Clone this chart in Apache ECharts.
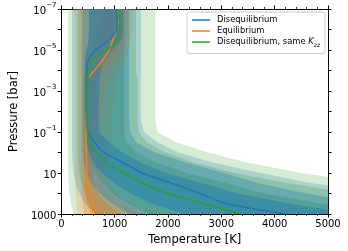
<!DOCTYPE html>
<html><head><meta charset="utf-8">
<script src="https://cdn.jsdelivr.net/npm/echarts@6/dist/echarts.min.js"></script>
<style>html,body{margin:0;padding:0;background:#fff}#c{width:348px;height:251px}</style>
</head><body><div id="c"></div>
<script>
// Pressure levels [bar]
const pressure = [1e-7,3.16e-7,1e-6,3.16e-6,5.62e-6,1e-5,1.78e-5,3.16e-5,5.62e-5,1e-4,3.16e-4,1e-3,1e-2,3.16e-2,0.1,0.316,1,3.16,10,31.6,100,316,1000];

// Median temperature profiles [K]
const tempDiseq    = [1020,1050,1040,900,770,640,565,505,485,478,472,468,468,475,500,620,800,1160,1520,2070,2600,3100,4220];
const tempEq       = [1092,1085,1040,965,935,895,835,770,700,622,480,470,465,463,463,465,468,470,474,480,495,560,673];
const tempDiseqKzz = [1095,1092,1088,1060,980,840,665,565,535,518,500,490,480,480,490,530,660,850,1180,1530,2000,2680,3380];

// Credible-interval bands (lo3 < lo2 < lo1 < hi1 < hi2 < hi3)
const diseqLo3 = [200,200,200,200,200,200,200,200,200,200,200,200,200,200,200,200,200,210,230,270,340,450,650];
const diseqLo2 = [400,400,400,398,396,395,394,393,392,392,392,392,392,392,394,398,400,420,460,560,720,950,1300];
const diseqLo1 = [520,520,518,510,495,470,455,445,440,438,436,435,435,437,445,470,520,600,760,1000,1300,1700,2300];
const diseqHi1 = [1150,1160,1160,1130,1060,960,870,800,760,740,720,710,700,700,710,900,1150,1500,1950,2650,3300,4300,5500];
const diseqHi2 = [1270,1270,1270,1270,1270,1270,1270,1270,1270,1270,1270,1270,1270,1275,1290,1400,1750,2350,3050,3700,4600,5700,7200];
const diseqHi3 = [1490,1490,1490,1490,1490,1490,1490,1490,1490,1490,1490,1490,1490,1495,1550,1800,2200,2850,3750,4700,6200,8000,10000];

const kzzLo3 = [127,127,127,127,127,127,127,127,127,127,127,127,127,127,127,127,127,128,130,135,150,180,230];
const kzzLo2 = [310,310,310,310,310,310,310,310,310,310,310,310,310,310,310,310,310,315,330,380,450,520,600];
const kzzLo1 = [520,520,520,515,505,480,460,450,445,442,440,440,440,440,445,460,500,560,650,780,950,1250,1650];
const kzzHi1 = [1180,1180,1180,1180,1180,1180,1180,1180,1180,1180,1180,1180,1180,1180,1180,1220,1420,1800,2350,3100,3800,4900,6300];
const kzzHi2 = [1400,1400,1400,1400,1400,1400,1400,1400,1400,1400,1430,1430,1430,1430,1450,1600,1950,2500,3250,4250,5500,7000,9000];
const kzzHi3 = [1764,1764,1764,1764,1764,1764,1764,1764,1764,1764,1764,1764,1764,1764,1800,2150,2750,3500,4500,5800,7500,9500,12000];

const eqLo3 = [255,255,255,255,255,255,255,255,255,255,255,255,255,255,255,255,255,255,256,258,265,280,300];
const eqLo2 = [370,370,370,370,370,370,370,370,370,370,370,370,370,370,370,370,370,371,372,374,380,400,430];
const eqLo1 = [720,715,700,660,630,600,560,520,480,450,430,425,425,425,425,425,426,428,430,435,445,480,560];
const eqHi1 = [1180,1175,1160,1120,1090,1060,1000,930,860,790,650,610,600,595,592,590,590,592,598,620,680,850,1100];
const eqHi2 = [1250,1245,1235,1210,1190,1170,1120,1070,1010,950,860,810,770,750,730,715,705,705,712,760,880,1150,1450];
const eqHi3 = [1330,1325,1315,1290,1275,1260,1220,1180,1140,1100,1030,990,960,945,930,915,900,890,885,910,1050,1350,1820];

// Tick values / labels
const xTicks = [0,1000,2000,3000,4000,5000];
const yTicks = [1e-7,1e-6,1e-5,1e-4,1e-3,1e-2,1e-1,1,10,100,1000];
const yLabelTicks = [1e-7,1e-5,1e-3,1e-1,10,1000];

const BLUE = '#1f77b4', ORANGE = '#ff7f0e', GREEN = '#2ca02c';
const FONT = 'DejaVu Sans';
const ALPHA_G = [0.2, 0.25, 0.3];
const ALPHA_O = [0.2, 0.28, 0.38];
const ALPHA_B = [0.22, 0.32, 0.45];

function band(lo, hi, color, alpha) {
  return {
    type: 'custom',
    coordinateSystem: 'cartesian2d',
    silent: true,
    z: 1,
    data: [[lo[0], pressure[0]]],
    renderItem: function (params, api) {
      const pts = [];
      for (let i = 0; i < pressure.length; i++) pts.push(api.coord([lo[i], pressure[i]]));
      for (let i = pressure.length - 1; i >= 0; i--) pts.push(api.coord([hi[i], pressure[i]]));
      const cs = params.coordSys;
      return {
        type: 'polygon',
        shape: { points: pts },
        style: { fill: color, opacity: alpha },
        clipPath: { type: 'rect', shape: { x: cs.x, y: cs.y, width: cs.width, height: cs.height } }
      };
    }
  };
}
function line(name, temps, color) {
  return {
    name: name, type: 'line', z: 5,
    data: temps.map((t, i) => [t, pressure[i]]),
    showSymbol: false, symbol: 'none', smooth: 0.25,
    lineStyle: { color: color, width: 1.5 },
    itemStyle: { color: color }
  };
}

const series = [
  band(kzzLo3, kzzHi3, GREEN, ALPHA_G[0]), band(kzzLo2, kzzHi2, GREEN, ALPHA_G[1]), band(kzzLo1, kzzHi1, GREEN, ALPHA_G[2]),
  band(eqLo3, eqHi3, ORANGE, ALPHA_O[0]), band(eqLo2, eqHi2, ORANGE, ALPHA_O[1]), band(eqLo1, eqHi1, ORANGE, ALPHA_O[2]),
  band(diseqLo3, diseqHi3, BLUE, ALPHA_B[0]), band(diseqLo2, diseqHi2, BLUE, ALPHA_B[1]), band(diseqLo1, diseqHi1, BLUE, ALPHA_B[2]),
  line('Equilibrium', tempEq, ORANGE),
  line('Disequilibrium', tempDiseq, BLUE),
  line('Disequilibrium, same Kzz', tempDiseqKzz, GREEN)
];

const axisCommonX = {
  type: 'value', min: xTicks[0], max: xTicks[xTicks.length - 1], interval: 1000,
  axisLine: { show: true, onZero: false, lineStyle: { color: '#000', width: 1 } },
  axisTick: { show: true, length: 3.5, lineStyle: { color: '#000', width: 1 } },
  minorTick: { show: true, splitNumber: 5, length: 2, lineStyle: { color: '#000', width: 0.8 } },
  splitLine: { show: false }, minorSplitLine: { show: false }
};
const axisCommonY = {
  type: 'log', logBase: 10, min: 1e-7, max: 1000, inverse: true,
  axisLine: { show: true, onZero: false, lineStyle: { color: '#000', width: 1 } },
  axisTick: { show: true, length: 3.5, customValues: yTicks, lineStyle: { color: '#000', width: 1 } },
  splitLine: { show: false }
};

const chart = echarts.init(document.getElementById('c'), null, { renderer: 'canvas' });
chart.setOption({
  animation: false,
  backgroundColor: '#fff',
  grid: { left: 53, right: 20, top: 9, bottom: 37, containLabel: false },
  xAxis: [
    Object.assign({}, axisCommonX, {
      position: 'bottom',
      axisLabel: { color: '#000', fontSize: 10, fontFamily: FONT, margin: 5, formatter: function (v) { return String(v); } },
      name: 'Temperature [K]', nameLocation: 'middle', nameGap: 18,
      nameTextStyle: { color: '#000', fontSize: 11.5, fontFamily: FONT }
    }),
    Object.assign({}, axisCommonX, { position: 'top', axisLabel: { show: false } })
  ],
  yAxis: [
    Object.assign({}, axisCommonY, {
      position: 'left',
      axisLabel: {
        color: '#000', margin: 5, customValues: yLabelTicks,
        formatter: function (v) {
          const e = Math.round(Math.log10(v));
          if (e >= 0) return '{b|' + Math.round(Math.pow(10, e)) + '}';
          return '{b|10}{s|\u2212' + (-e) + '}';
        },
        rich: {
          b: { fontSize: 10, fontFamily: FONT, color: '#000', lineHeight: 15, verticalAlign: 'bottom' },
          s: { fontSize: 7, fontFamily: FONT, color: '#000', lineHeight: 9, verticalAlign: 'top' }
        }
      },
      name: 'Pressure [bar]', nameLocation: 'middle', nameGap: 40,
      nameTextStyle: { color: '#000', fontSize: 11.5, fontFamily: FONT }
    }),
    Object.assign({}, axisCommonY, { position: 'right', axisLabel: { show: false } })
  ],
  legend: {
    left: 187, top: 12, orient: 'vertical',
    data: ['Disequilibrium', 'Equilibrium', 'Disequilibrium, same Kzz'],
    icon: 'rect', itemWidth: 18, itemHeight: 1.5, itemGap: 3,
    padding: [4, 5, 5, 5],
    backgroundColor: 'rgba(255,255,255,0.8)', borderColor: '#cccccc', borderWidth: 1, borderRadius: 3,
    textStyle: {
      color: '#000', fontSize: 8.4, fontFamily: FONT, padding: [0, 0, 0, 2],
      rich: {
        t: { fontSize: 8.4, fontFamily: FONT, color: '#000' },
        k: { fontSize: 8.4, fontFamily: FONT, color: '#000', fontStyle: 'italic' },
        z: { fontSize: 6, fontFamily: FONT, color: '#000', fontStyle: 'italic', verticalAlign: 'bottom', lineHeight: 13 }
      }
    },
    formatter: function (name) {
      if (name === 'Disequilibrium, same Kzz') return '{t|Disequilibrium, same }{k|K}{z|zz}';
      return name;
    }
  },
  series: series
});
</script>
</body></html>
